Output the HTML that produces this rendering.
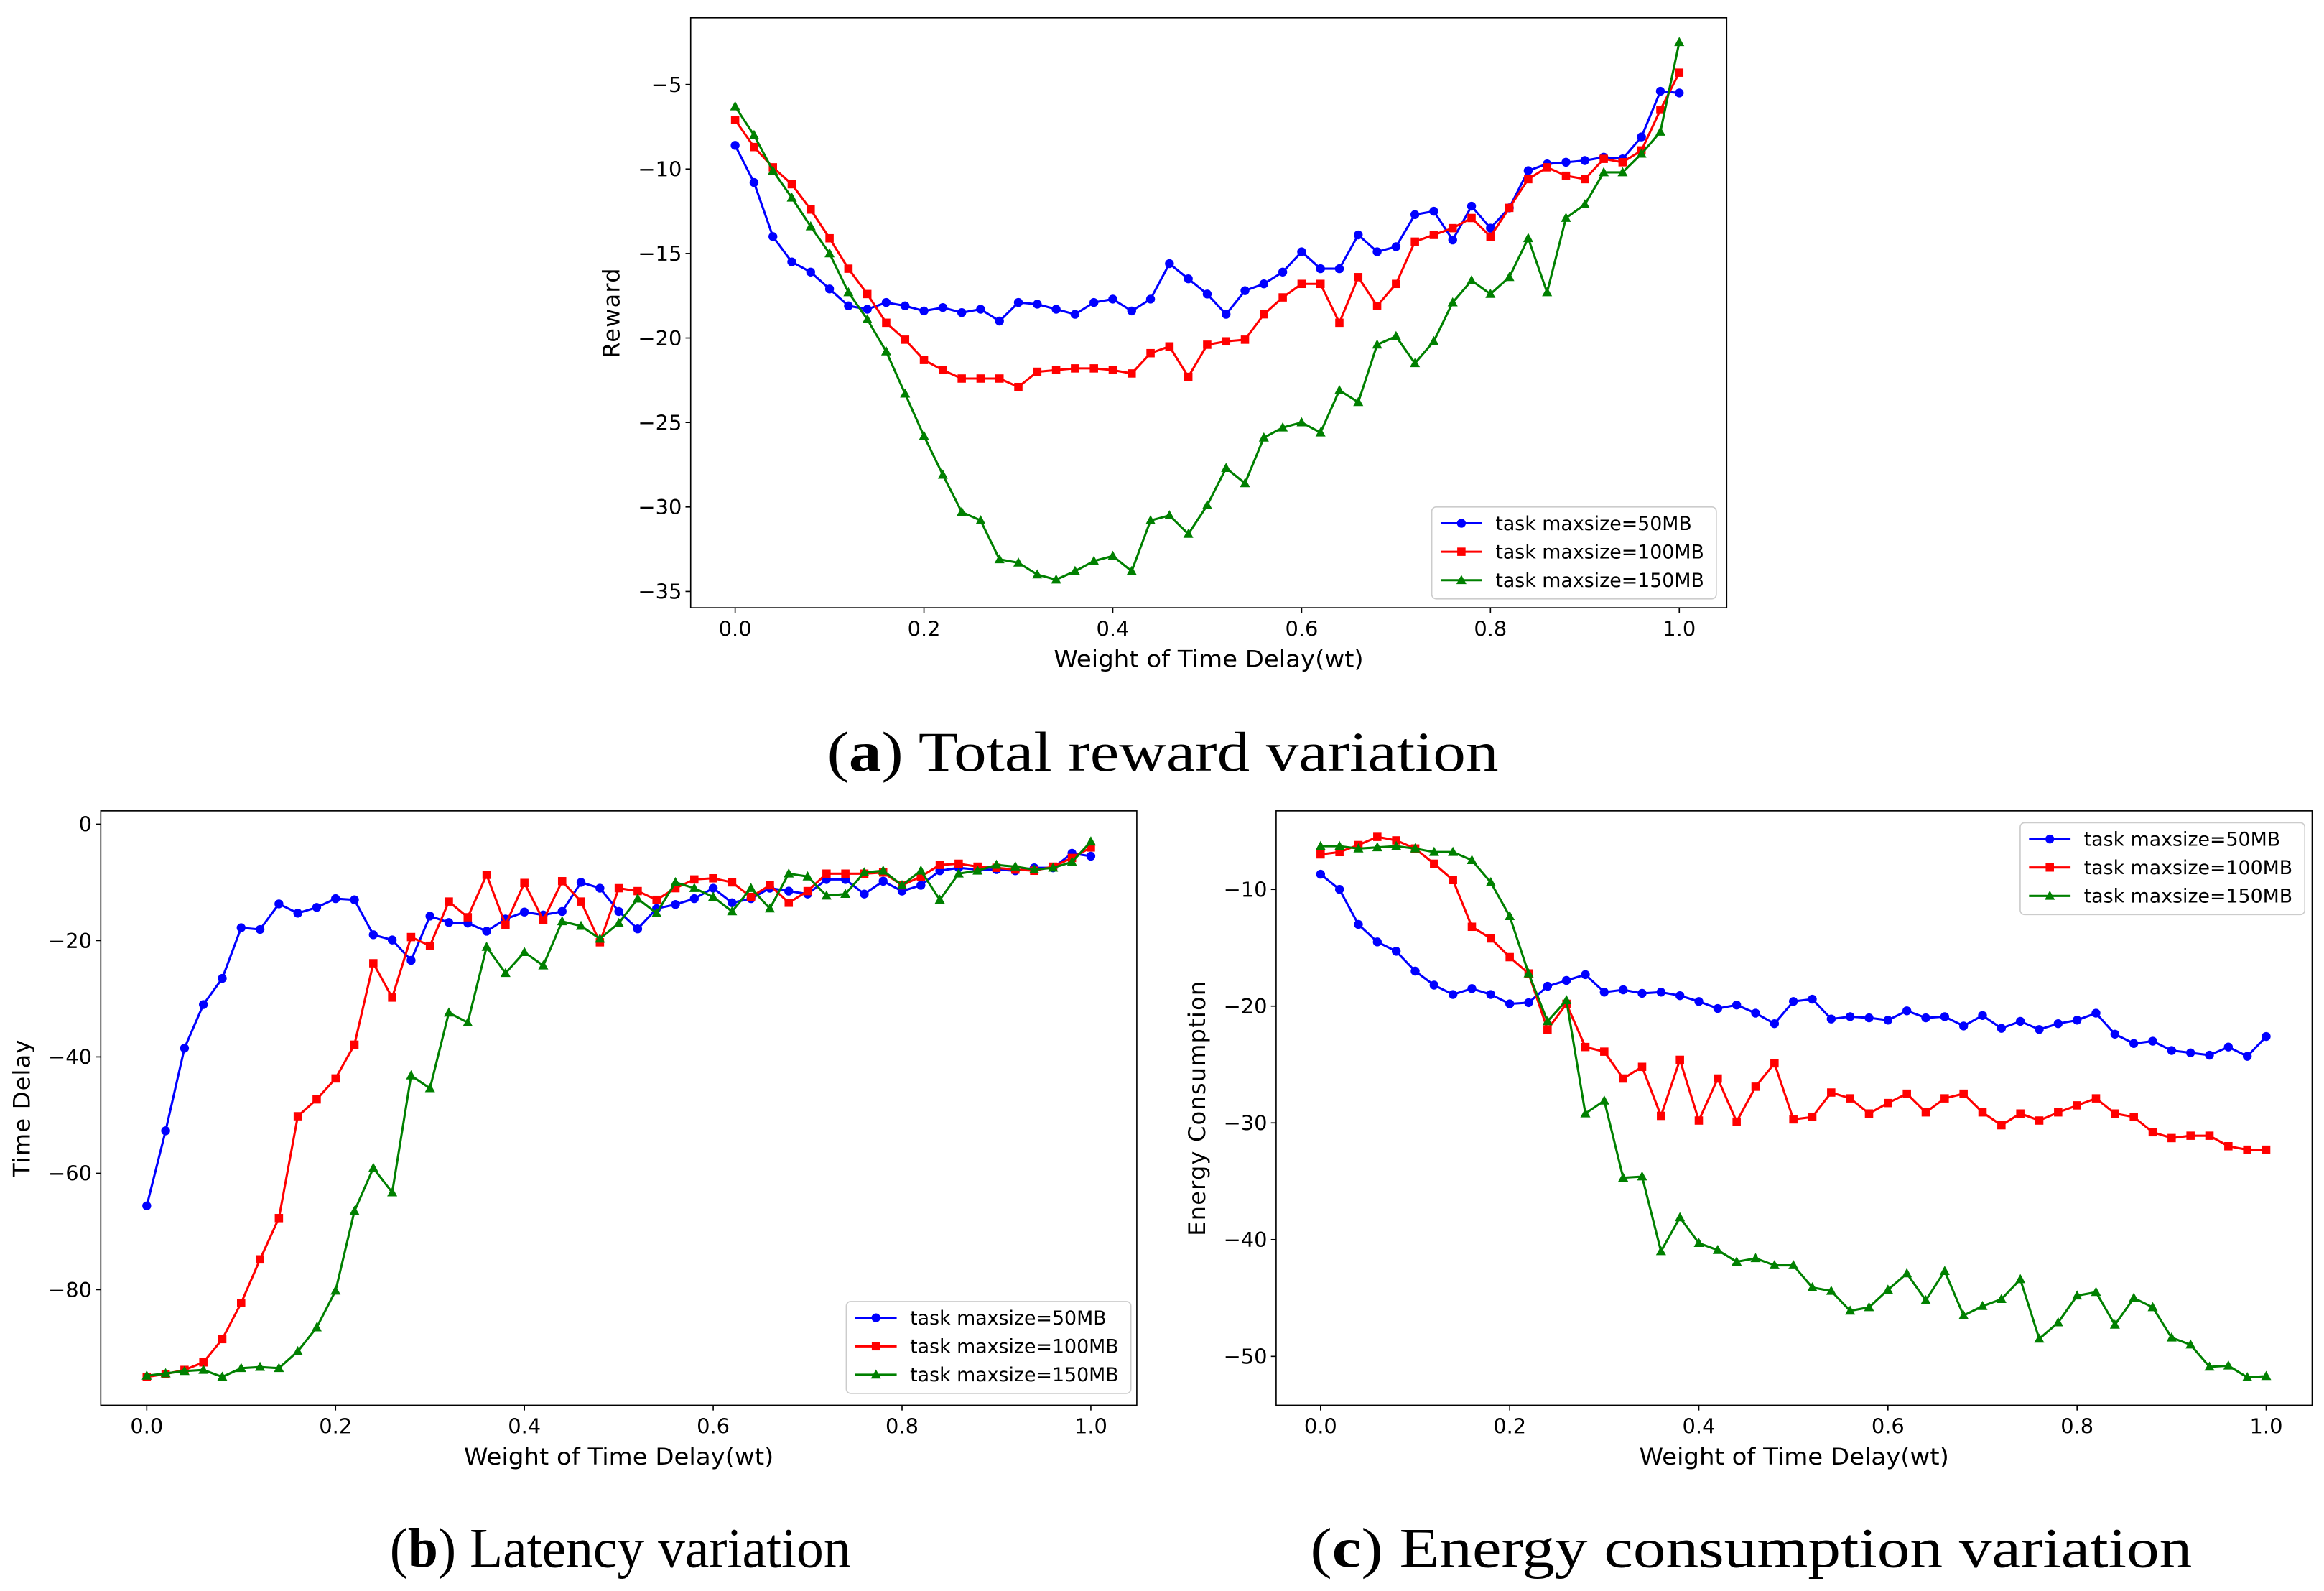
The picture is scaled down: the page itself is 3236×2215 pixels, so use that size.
<!DOCTYPE html>
<html><head><meta charset="utf-8">
<style>
html,body{margin:0;padding:0;background:#fff;}
svg{display:block;}
text{font-family:"DejaVu Sans","Liberation Sans",sans-serif;}
.cap{font-family:"Liberation Serif","DejaVu Serif",serif;font-size:38px;}
</style></head>
<body>
<svg id="root" xmlns="http://www.w3.org/2000/svg" width="3236" height="2215" viewBox="0 0 1568 1073.3" preserveAspectRatio="none">
<rect width="1568" height="1073.3" fill="#fff"/>
<text class="cap" x="558" y="520" textLength="453" lengthAdjust="spacingAndGlyphs">(<tspan font-weight="bold">a</tspan>) Total reward variation</text>
<text class="cap" x="263" y="1057" textLength="311" lengthAdjust="spacingAndGlyphs">(<tspan font-weight="bold">b</tspan>) Latency variation</text>
<text class="cap" x="884" y="1057" textLength="595" lengthAdjust="spacingAndGlyphs">(<tspan font-weight="bold">c</tspan>) Energy consumption variation</text>
</svg>
<script>
const xValues = Array.from({length:51},(_, i)=>+(i*0.02).toFixed(2));
const seriesNames = ["task maxsize=50MB","task maxsize=100MB","task maxsize=150MB"];
const xTicks = [0,0.2,0.4,0.6,0.8,1.0];
const xTickLabels = ["0.0","0.2","0.4","0.6","0.8","1.0"];

const rewardTicks = [-5,-10,-15,-20,-25,-30,-35];
const reward50 = [-8.6,-10.8,-14,-15.5,-16.1,-17.1,-18.1,-18.3,-17.9,-18.1,-18.4,-18.2,-18.5,-18.3,-19,-17.9,-18,-18.3,-18.6,-17.9,-17.7,-18.4,-17.7,-15.6,-16.5,-17.4,-18.6,-17.2,-16.8,-16.1,-14.9,-15.9,-15.9,-13.9,-14.9,-14.6,-12.7,-12.5,-14.2,-12.2,-13.5,-12.3,-10.1,-9.7,-9.6,-9.5,-9.3,-9.4,-8.1,-5.4,-5.5];
const reward100 = [-7.1,-8.7,-9.9,-10.9,-12.4,-14.1,-15.9,-17.4,-19.1,-20.1,-21.3,-21.9,-22.4,-22.4,-22.4,-22.9,-22,-21.9,-21.8,-21.8,-21.9,-22.1,-20.9,-20.5,-22.3,-20.4,-20.2,-20.1,-18.6,-17.6,-16.8,-16.8,-19.1,-16.4,-18.1,-16.8,-14.3,-13.9,-13.5,-12.9,-14,-12.3,-10.6,-9.9,-10.4,-10.6,-9.4,-9.6,-8.9,-6.5,-4.3];
const reward150 = [-6.3,-8,-10.1,-11.7,-13.4,-15,-17.3,-18.9,-20.8,-23.3,-25.8,-28.1,-30.3,-30.8,-33.1,-33.3,-34,-34.3,-33.8,-33.2,-32.9,-33.8,-30.8,-30.5,-31.6,-29.9,-27.7,-28.6,-25.9,-25.3,-25,-25.6,-23.1,-23.8,-20.4,-19.9,-21.5,-20.2,-17.9,-16.6,-17.4,-16.4,-14.1,-17.3,-12.9,-12.1,-10.2,-10.2,-9.1,-7.8,-2.5];

const delayTicks = [0,-20,-40,-60,-80];
const delay50 = [-65.6,-52.7,-38.5,-31,-26.5,-17.8,-18.1,-13.7,-15.3,-14.3,-12.8,-13,-19,-19.9,-23.4,-15.8,-16.9,-17,-18.4,-16.3,-15.1,-15.6,-15,-10,-11,-15,-18,-14.5,-13.8,-12.8,-11,-13.5,-12.8,-11,-11.5,-12,-9.5,-9.5,-12,-9.8,-11.5,-10.5,-8,-7.5,-7.8,-7.8,-8,-7.5,-7.5,-5,-5.5];
const delay100 = [-95,-94.5,-93.8,-92.5,-88.5,-82.3,-74.8,-67.7,-50.2,-47.3,-43.7,-37.9,-23.9,-29.8,-19.4,-20.9,-13.3,-16,-8.7,-17.3,-10.1,-16.5,-9.8,-13.3,-20.3,-11,-11.5,-13,-11,-9.5,-9.3,-10,-12.5,-10.5,-13.5,-11.5,-8.5,-8.5,-8.5,-8.3,-10.5,-9,-7,-6.8,-7.3,-7.5,-7.8,-8,-7.3,-5.8,-4];
const delay150 = [-94.8,-94.4,-94,-93.8,-95,-93.5,-93.3,-93.5,-90.6,-86.5,-80.2,-66.5,-59.1,-63.3,-43.2,-45.4,-32.4,-34.1,-21.1,-25.6,-22,-24.3,-16.7,-17.5,-19.7,-17,-12.8,-15.3,-10,-11,-12.5,-15,-11,-14.5,-8.5,-9,-12.3,-12,-8.3,-8,-10.5,-8,-13,-8.5,-8,-7,-7.3,-7.8,-7.5,-6.5,-3];

const energyTicks = [-10,-20,-30,-40,-50];
const energy50 = [-8.7,-10,-13,-14.5,-15.3,-17,-18.2,-19,-18.5,-19,-19.8,-19.7,-18.3,-17.8,-17.3,-18.8,-18.6,-18.9,-18.8,-19.1,-19.6,-20.2,-19.9,-20.6,-21.5,-19.6,-19.4,-21.1,-20.9,-21,-21.2,-20.4,-21,-20.9,-21.7,-20.8,-21.9,-21.3,-22,-21.5,-21.2,-20.6,-22.4,-23.2,-23,-23.8,-24,-24.2,-23.5,-24.3,-22.6];
const energy100 = [-7,-6.8,-6.2,-5.5,-5.8,-6.5,-7.8,-9.2,-13.2,-14.2,-15.8,-17.2,-22,-19.8,-23.5,-23.9,-26.2,-25.2,-29.4,-24.6,-29.8,-26.2,-29.9,-26.9,-24.9,-29.7,-29.5,-27.4,-27.9,-29.2,-28.3,-27.5,-29.1,-27.9,-27.5,-29.1,-30.2,-29.2,-29.8,-29.1,-28.5,-27.9,-29.2,-29.5,-30.8,-31.3,-31.1,-31.1,-32,-32.3,-32.3];
const energy150 = [-6.3,-6.3,-6.5,-6.4,-6.3,-6.5,-6.8,-6.8,-7.5,-9.4,-12.3,-17.2,-21.3,-19.5,-29.2,-28.1,-34.7,-34.6,-41,-38.1,-40.3,-40.9,-41.9,-41.6,-42.2,-42.2,-44.1,-44.4,-46.1,-45.8,-44.3,-42.9,-45.2,-42.7,-46.5,-45.7,-45.1,-43.4,-48.5,-47.1,-44.8,-44.5,-47.3,-45,-45.8,-48.4,-49,-50.9,-50.8,-51.8,-51.7];

const NS="http://www.w3.org/2000/svg";
const root=document.getElementById('root');
function mk(tag,attrs,parent){const e=document.createElementNS(NS,tag);for(const k in attrs)e.setAttribute(k,attrs[k]);(parent||root).appendChild(e);return e;}
const colors=["#0000ff","#ff0000","#008000"];
const markers=["circle","square","triangle"];
function marker(g,kind,x,y,c){
  let m;
  if(kind==="circle") m=mk('circle',{cx:x,cy:y,r:3,fill:c},g);
  else if(kind==="square") m=mk('rect',{x:x-2.8,y:y-2.8,width:5.6,height:5.6,fill:c},g);
  else m=mk('polygon',{points:`${x},${y-3.6} ${x-3.4},${y+2.6} ${x+3.4},${y+2.6}`,fill:c},g);
  return m;
}
function chart(cfg){
  const g=mk('g',{});
  
  
  const sx=v=>cfg.x0+(v-0)*(cfg.x1-cfg.x0);
  const sy=v=>cfg.yA+(v-cfg.vA)*(cfg.yB-cfg.yA)/(cfg.vB-cfg.vA);
  cfg.series.forEach((s,i)=>{
    const sg=mk('g',{},g);
    
    
    const pts=xValues.map((x,j)=>sx(x).toFixed(2)+','+sy(s[j]).toFixed(2)).join(' ');
    const pl=mk('polyline',{points:pts,fill:'none',stroke:colors[i],'stroke-width':1.5},sg);
    
    
    xValues.forEach((x,j)=>{const m=marker(sg,markers[i],sx(x),sy(s[j]),colors[i]);
      
      });
  });
  const fr=mk('rect',{x:cfg.bx0,y:cfg.by0,width:cfg.bx1-cfg.bx0,height:cfg.by1-cfg.by0,fill:'none',stroke:'#000','stroke-width':0.8},g);
  
  
  xTicks.forEach((t,i)=>{
    const x=sx(t);
    mk('line',{x1:x,x2:x,y1:cfg.by1,y2:cfg.by1+3.5,stroke:'#000','stroke-width':0.8},g);
    const tx=mk('text',{x:x,y:cfg.by1+19,'font-size':14,'text-anchor':'middle'},g);
    tx.textContent=xTickLabels[i];
    
    
  });
  cfg.yTicks.forEach(t=>{
    const y=sy(t);
    mk('line',{x1:cfg.bx0-3.5,x2:cfg.bx0,y1:y,y2:y,stroke:'#000','stroke-width':0.8},g);
    const tx=mk('text',{x:cfg.bx0-6,y:y+5,'font-size':14,'text-anchor':'end'},g);
    tx.textContent=String(t).replace('-','\u2212');
    
    
  });
  const xl=mk('text',{x:(cfg.bx0+cfg.bx1)/2,y:cfg.by1+40,'font-size':15.5,'text-anchor':'middle',textLength:209,lengthAdjust:'spacingAndGlyphs'},g);
  xl.textContent='Weight of Time Delay(wt)';
  
  
  const yc=(cfg.by0+cfg.by1)/2;
  const yl=mk('text',{x:cfg.ylx,y:yc,'font-size':15.5,'text-anchor':'middle','letter-spacing':0.6,transform:`rotate(-90 ${cfg.ylx} ${yc})`},g);
  yl.textContent=cfg.ylabel;
  
  
  const lg=mk('g',{},g);
  
  
  mk('rect',{x:cfg.lx,y:cfg.ly,width:192,height:62,rx:3,fill:'#fff',stroke:'#ccc','stroke-width':0.8},lg);
  seriesNames.forEach((n,i)=>{
    const y=cfg.ly+11+i*19.2;
    const eg=mk('g',{},lg);
    
    
    mk('line',{x1:cfg.lx+6,x2:cfg.lx+34,y1:y,y2:y,stroke:colors[i],'stroke-width':1.5},eg);
    marker(eg,markers[i],cfg.lx+20,y,colors[i]);
    const t=mk('text',{x:cfg.lx+43,y:y+4.5,'font-size':13},eg);
    t.textContent=n;
  });
}
chart({name:'reward-chart',series:[reward50,reward100,reward150],yTicks:rewardTicks,ylabel:'Reward',
  bx0:466,bx1:1165,by0:12,by1:410,x0:496,x1:1133,yA:57,vA:-5,yB:399,vB:-35,ylx:418,lx:966,ly:342});
chart({name:'latency-chart',series:[delay50,delay100,delay150],yTicks:delayTicks,ylabel:'Time Delay',
  bx0:68,bx1:767,by0:547,by1:948,x0:99,x1:736,yA:556,vA:0,yB:870,vB:-80,ylx:20,lx:571,ly:878});
chart({name:'energy-chart',series:[energy50,energy100,energy150],yTicks:energyTicks,ylabel:'Energy Consumption',
  bx0:861,bx1:1560,by0:547,by1:948,x0:891,x1:1529,yA:600,vA:-10,yB:915,vB:-50,ylx:813,lx:1363,ly:555});
</script>
</body></html>
